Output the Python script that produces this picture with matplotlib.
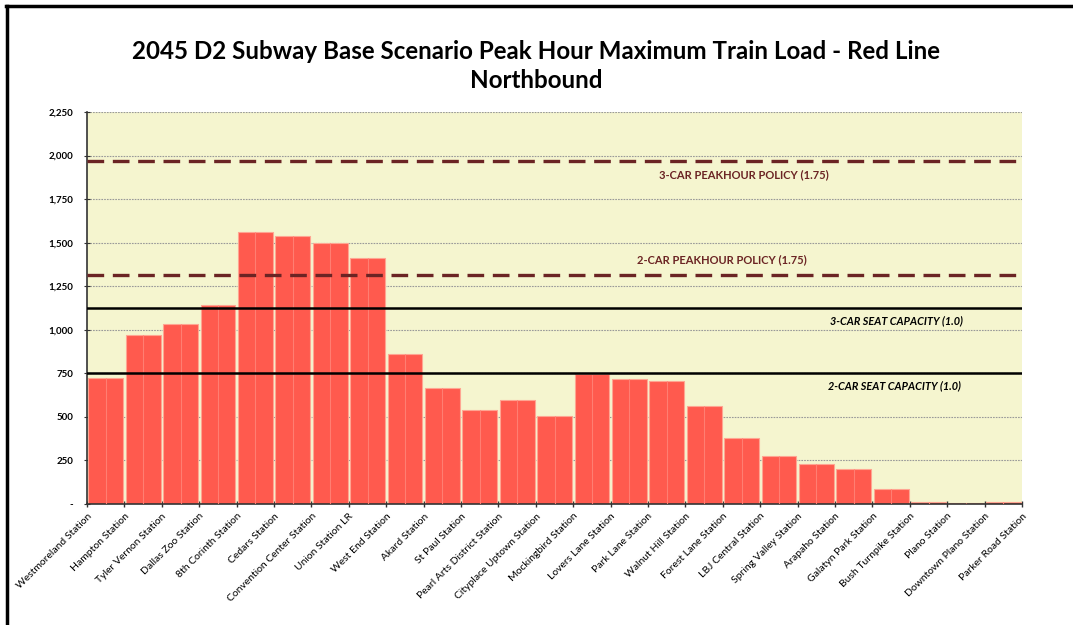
import matplotlib.pyplot as plt
from matplotlib.lines import Line2D

plt.rcParams['font.family'] = ['Lato', 'DejaVu Sans']

# stations (northbound order); labels sit on the tick marks between the bars
stasjoner = ['Westmoreland Station', 'Hampton Station', 'Tyler Vernon Station', 'Dallas Zoo Station',
             '8th Corinth Station', 'Cedars Station', 'Convention Center Station', 'Union Station LR',
             'West End Station', 'Akard Station', 'St Paul Station', 'Pearl Arts District Station',
             'Cityplace Uptown Station', 'Mockingbird Station', 'Lovers Lane Station', 'Park Lane Station',
             'Walnut Hill Station', 'Forest Lane Station', 'LBJ Central Station', 'Spring Valley Station',
             'Arapaho Station', 'Galatyn Park Station', 'Bush Turnpike Station', 'Plano Station',
             'Downtown Plano Station', 'Parker Road Station']
# peak hour max train load per segment
last = [723, 970, 1033, 1142, 1561, 1540, 1498, 1412, 861, 666, 540, 597, 505, 746,
        718, 706, 563, 379, 276, 230, 201, 86, 12, 8, 10]

# capacity lines
seat_2car = 750
seat_3car = 1125
policy_2car = 1312.5
policy_3car = 1968.75

yticks = [0, 250, 500, 750, 1000, 1250, 1500, 1750, 2000, 2250]
ytick_labels = ['-', '250', '500', '750', '1,000', '1,250', '1,500', '1,750', '2,000', '2,250']

fig = plt.figure(figsize=(10.73, 6.25), dpi=100)
ax = fig.add_axes([0.0811, 0.1936, 0.8714, 0.6272])
ax.set_facecolor('#F5F5CF')

n = len(last)
x = list(range(n))
ax.bar(x, last, width=0.93, color='#FF5A4E', edgecolor='#FFA592', linewidth=0.8, zorder=2)
ax.vlines(x, 0, last, color='#FF7E72', linewidth=0.8, zorder=3)

# capacity / policy lines
ax.axhline(policy_3car, color='#6B2424', linewidth=2.4, dashes=(5, 2.6), zorder=4)
ax.axhline(policy_2car, color='#6B2424', linewidth=2.4, dashes=(5, 2.6), zorder=4)
ax.axhline(seat_3car, color='black', linewidth=1.8, zorder=4)
ax.axhline(seat_2car, color='black', linewidth=1.8, zorder=4)

ax.text(17.07, 1890, '3-CAR PEAKHOUR POLICY (1.75)', color='#6B2424', fontsize=8, fontweight='bold',
        ha='center', va='center', zorder=5)
ax.text(16.48, 1402, '2-CAR PEAKHOUR POLICY (1.75)', color='#6B2424', fontsize=8, fontweight='bold',
        ha='center', va='center', zorder=5)
ax.text(21.13, 1050, '3-CAR SEAT CAPACITY (1.0)', color='black', fontsize=7.8, fontweight='bold',
        fontstyle='italic', ha='center', va='center', zorder=5)
ax.text(21.1, 677, '2-CAR SEAT CAPACITY (1.0)', color='black', fontsize=7.8, fontweight='bold',
        fontstyle='italic', ha='center', va='center', zorder=5)

ax.set_xlim(-0.5, n - 0.5)
ax.set_ylim(0, 2250)
ax.set_yticks(yticks)
ax.set_yticklabels(ytick_labels, fontsize=7, fontweight='bold')
ax.grid(axis='y', color='#999999', linestyle=(0, (1.5, 1)), linewidth=0.8, zorder=1)
ax.set_axisbelow(True)

ax.set_xticks([i - 0.5 for i in range(n + 1)])
ax.set_xticklabels(stasjoner, rotation=45, ha='right', rotation_mode='anchor', fontsize=7.5)
ax.tick_params(axis='x', length=5, direction='inout', color='#333333', width=1, pad=3)
ax.tick_params(axis='y', length=4, direction='inout', color='#333333', pad=8)

for s in ['top', 'right']:
    ax.spines[s].set_visible(False)
for s in ['left', 'bottom']:
    ax.spines[s].set_color('#333333')
    ax.spines[s].set_linewidth(1.2)

fig.text(0.5, 0.894, '2045 D2 Subway Base Scenario Peak Hour Maximum Train Load - Red Line\nNorthbound',
         ha='center', va='center', fontsize=17.4, fontweight='bold', linespacing=1.3)

# outer frame (top and left)
fig.add_artist(Line2D([0.006, 1.0], [0.991, 0.991], color='black', linewidth=2.5, transform=fig.transFigure))
fig.add_artist(Line2D([0.0065, 0.0065], [0.0, 0.991], color='black', linewidth=2.5, transform=fig.transFigure))

fig.savefig('out.png', dpi=100)
